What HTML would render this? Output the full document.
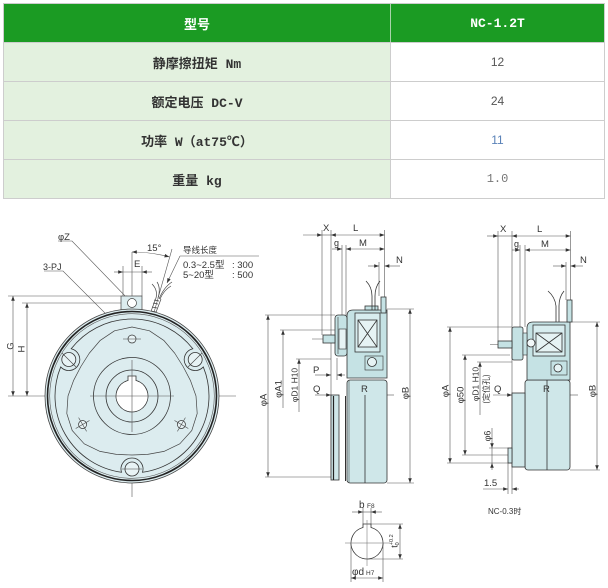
<!DOCTYPE html>
<html><head><meta charset="utf-8">
<style>
body{margin:0;width:608px;height:588px;background:#fff;position:relative;overflow:hidden;}
.bx{position:absolute;}
.c{position:absolute;display:flex;align-items:center;justify-content:center;white-space:pre;}
.h{font:bold 13px "Liberation Mono","Noto Sans CJK SC",monospace;color:#fff;}
.l{font:bold 13px "Liberation Mono","Noto Sans CJK SC",monospace;color:#333;}
.v{font:12px "Liberation Sans",sans-serif;color:#555;}
</style></head>
<body>
<!-- TABLE -->
<div class="bx" style="left:3px;top:3px;width:600px;height:194px;border:1px solid #cdcdcd;"></div>
<div class="bx" style="left:4px;top:4px;width:600px;height:38px;background:#1b9b23;"></div>
<div class="bx" style="left:4px;top:42px;width:386px;height:156px;background:#e3f1df;"></div>
<div class="bx" style="left:4px;top:42px;width:600px;height:1px;background:#cdcdcd;"></div>
<div class="bx" style="left:4px;top:81px;width:600px;height:1px;background:#cdcdcd;"></div>
<div class="bx" style="left:4px;top:120px;width:600px;height:1px;background:#cdcdcd;"></div>
<div class="bx" style="left:4px;top:159px;width:600px;height:1px;background:#cdcdcd;"></div>
<div class="bx" style="left:390px;top:4px;width:1px;height:38px;background:#a9d3aa;"></div>
<div class="bx" style="left:390px;top:43px;width:1px;height:155px;background:#cdcdcd;"></div>

<div class="c h" style="left:4px;top:4px;width:386px;height:38px;font-family:'Noto Sans CJK SC',sans-serif;">型号</div>
<div class="c h" style="left:391px;top:4px;width:213px;height:38px;">NC-1.2T</div>

<div class="c l" style="left:4px;top:43px;width:386px;height:38px;">静摩擦扭矩 Nm</div>
<div class="c v" style="left:391px;top:43px;width:213px;height:38px;">12</div>
<div class="c l" style="left:4px;top:82px;width:386px;height:38px;">额定电压 DC-V</div>
<div class="c v" style="left:391px;top:82px;width:213px;height:38px;">24</div>
<div class="c l" style="left:4px;top:121px;width:386px;height:38px;">功率 W（at75℃）</div>
<div class="c v" style="left:391px;top:121px;width:213px;height:38px;color:#5a82b8;">11</div>
<div class="c l" style="left:4px;top:160px;width:386px;height:38px;">重量 kg</div>
<div class="c v" style="left:391px;top:160px;width:213px;height:38px;font-family:'Liberation Mono',monospace;color:#777;">1.0</div>

<!-- DRAWING -->
<svg class="bx" style="left:0;top:0" width="608" height="588" viewBox="0 0 608 588" xmlns="http://www.w3.org/2000/svg">
<defs>
<marker id="a" viewBox="0 0 8 6" refX="8" refY="3" markerWidth="5" markerHeight="3.6" markerUnits="userSpaceOnUse" orient="auto-start-reverse"><path d="M0,0L8,3L0,6z" fill="#333"/></marker>
</defs>

<g font-family="Liberation Sans, sans-serif" fill="#333" font-size="9.5">

<!-- ================= FRONT VIEW ================= -->
<g stroke="#555" stroke-width="0.6" fill="none">
  <line x1="8" y1="396" x2="236" y2="396"/>
  <line x1="132" y1="252" x2="132" y2="497"/>
  <line x1="8" y1="296" x2="121" y2="296"/>
  <line x1="22" y1="303" x2="128" y2="303"/>
  <path d="M13,296 L13,396" marker-start="url(#a)" marker-end="url(#a)"/>
  <path d="M27,303 L27,396" marker-start="url(#a)" marker-end="url(#a)"/>
  <line x1="123" y1="266" x2="123" y2="296"/>
  <line x1="142" y1="266" x2="142" y2="296"/>
  <path d="M114,272 L123,272" marker-end="url(#a)"/>
  <path d="M152,272 L142,272" marker-end="url(#a)"/>
  <line x1="123" y1="272" x2="142" y2="272"/>
  <line x1="149" y1="330" x2="172" y2="249"/>
  <path d="M132,252 A144,144 0 0 1 169.3,256.9" marker-start="url(#a)" marker-end="url(#a)"/>
  <line x1="180" y1="256" x2="259" y2="256"/>
  <path d="M180,256 L167,283" marker-end="url(#a)"/>
  <path d="M58,241 L72,241 L129,300" marker-end="url(#a)"/>
  <path d="M44,271 L63,271 L128,336" marker-end="url(#a)"/>
</g>

<rect x="121" y="296" width="21" height="18" fill="#dcecef" stroke="#444" stroke-width="0.7"/>
<circle cx="132" cy="303" r="4.5" fill="#fff" stroke="#444" stroke-width="0.7"/>
<g stroke="#444" stroke-width="0.7" fill="none">
  <path d="M150,314 L156,298 M155,315 L161,299"/>
  <path d="M151,311 L156,312 M152,307 L157,308 M153,303 L158,304 M154,300 L159,301"/>
  <path d="M156,298 Q158,290 152,284 M158,298 Q161,288 157,282 M160,299 Q164,290 171,286 M159,299 Q164,287 172,282"/>
</g>

<circle cx="132" cy="396" r="87" fill="#dcecef" stroke="#444" stroke-width="0.8"/>
<circle cx="132" cy="396" r="84.5" fill="none" stroke="#222" stroke-width="1.6"/>
<circle cx="132" cy="396" r="82.3" fill="none" stroke="#555" stroke-width="0.6"/>
<path d="M203.31,366.95 A77,77 0 0 1 142.49,472.28 A11,11 0 1 0 121.51,472.28 A77,77 0 0 1 60.69,366.95 A11,11 0 1 0 71.19,348.77 A77,77 0 0 1 192.81,348.77 A11,11 0 1 0 203.31,366.95 Z" fill="none" stroke="#333" stroke-width="0.8"/>
<path d="M196,396 L197.2,413.5 L191.8,430.5 L179.8,443.8 L164,451.4 L147.6,454.4 L132,455 L116.4,454.4 L100,451.4 L84.2,443.8 L72.2,430.5 L66.8,413.5 L68,396 L73.6,380.4 L80.9,366.5 L89.25,353.25 L100,340.6 L114.5,330.8 L132,327 L149.5,330.8 L164,340.6 L174.75,353.25 L183.1,366.5 L190.4,380.4 Z" fill="none" stroke="#444" stroke-width="0.7" stroke-linejoin="round"/>
<circle cx="132" cy="396" r="38.5" fill="none" stroke="#333" stroke-width="0.8"/>
<circle cx="132" cy="396" r="26" fill="none" stroke="#333" stroke-width="0.8"/>
<path d="M128,380.51 L128,376 L136,376 L136,380.51 A16,16 0 1 1 128,380.51 Z" fill="#fff" stroke="#333" stroke-width="0.8"/>
<g stroke="#555" stroke-width="0.6" fill="none"><line x1="90" y1="396" x2="174" y2="396"/><line x1="132" y1="360" x2="132" y2="432"/></g>
<g fill="#e8f3f5" stroke="#333" stroke-width="0.8">
  <circle cx="68.8" cy="359.5" r="7"/>
  <circle cx="195.2" cy="359.5" r="7"/>
  <circle cx="132" cy="469" r="7"/>
</g>
<g stroke="#444" stroke-width="0.6">
  <line x1="62" y1="353" x2="76" y2="367"/>
  <line x1="202" y1="353" x2="188" y2="367"/>
  <line x1="122" y1="469" x2="142" y2="469"/>
</g>
<g fill="#e8f3f5" stroke="#333" stroke-width="0.7">
  <circle cx="132" cy="339" r="4"/>
  <circle cx="82.6" cy="424.5" r="4"/>
  <circle cx="181.4" cy="424.5" r="4"/>
</g>
<g stroke="#444" stroke-width="0.6">
  <line x1="123" y1="339" x2="141" y2="339"/>
  <line x1="89.5" y1="420.5" x2="75.7" y2="428.5"/><line x1="78.6" y1="417.6" x2="86.6" y2="431.4"/>
  <line x1="174.5" y1="420.5" x2="188.3" y2="428.5"/><line x1="185.4" y1="417.6" x2="177.4" y2="431.4"/>
</g>

<text x="58" y="240" font-size="9.5">φZ</text>
<text x="43" y="270" font-size="9">3-PJ</text>
<text x="134" y="267" font-size="9.5">E</text>
<text x="147" y="251" font-size="9.5">15°</text>
<text x="183" y="253" font-size="8.5" font-family="Noto Sans CJK SC, sans-serif">导线长度</text>
<text x="183" y="268" font-size="9.5" font-family="Liberation Sans, Noto Sans CJK SC, sans-serif">0.3~2.5型</text>
<text x="232" y="268" font-size="9.5">: 300</text>
<text x="183" y="278" font-size="9.5" font-family="Liberation Sans, Noto Sans CJK SC, sans-serif">5~20型</text>
<text x="232" y="278" font-size="9.5">: 500</text>
<text transform="rotate(-90 11 346)" x="11" y="346" text-anchor="middle" dominant-baseline="middle" font-size="9.5">G</text>
<text transform="rotate(-90 22 349)" x="22" y="349" text-anchor="middle" dominant-baseline="middle" font-size="9.5">H</text>

<!-- ================= MIDDLE SIDE VIEW ================= -->
<g stroke="#555" stroke-width="0.6" fill="none">
  <line x1="322" y1="230" x2="322" y2="335"/>
  <line x1="331" y1="230" x2="331" y2="478"/>
  <line x1="384.5" y1="230" x2="384.5" y2="297"/>
  <path d="M303,235 L322,235" marker-end="url(#a)"/>
  <path d="M331,235 L384.5,235" marker-start="url(#a)" marker-end="url(#a)"/>
  <line x1="322" y1="235" x2="331" y2="235"/>
  <line x1="342" y1="245" x2="342" y2="315"/>
  <line x1="346" y1="245" x2="346" y2="315"/>
  <path d="M332,249 L342,249" marker-end="url(#a)"/>
  <path d="M346,249 L384.5,249" marker-start="url(#a)" marker-end="url(#a)"/>
  <line x1="379" y1="262" x2="379" y2="296"/>
  <path d="M368,266 L379,266" marker-end="url(#a)"/>
  <path d="M400,266 L384.5,266" marker-end="url(#a)"/>
  <line x1="265" y1="315" x2="335" y2="315"/>
  <line x1="265" y1="477" x2="331" y2="477"/>
  <path d="M268,315 L268,477" marker-start="url(#a)" marker-end="url(#a)"/>
  <line x1="280" y1="330" x2="335" y2="330"/>
  <path d="M283,408 L283,330" marker-end="url(#a)"/>
  <line x1="296" y1="359" x2="331" y2="359"/>
  <path d="M299,412 L299,359" marker-end="url(#a)"/>
  <path d="M315,375 L331,375" marker-end="url(#a)"/>
  <path d="M345,375 L337,375" marker-end="url(#a)"/>
  <line x1="337" y1="358" x2="337" y2="380"/>
  <path d="M315,395 L331,395" marker-end="url(#a)"/>
  <path d="M347,395 L386,395" marker-start="url(#a)" marker-end="url(#a)"/>
  <line x1="386" y1="395" x2="394" y2="395"/>
  <line x1="387" y1="309" x2="414" y2="309"/>
  <line x1="387" y1="483" x2="414" y2="483"/>
  <path d="M410,309 L410,483" marker-start="url(#a)" marker-end="url(#a)"/>
  <line x1="312" y1="339" x2="352" y2="339"/>
</g>
<g stroke="#333" stroke-width="0.8">
  <rect x="347" y="380" width="40" height="103" rx="3" fill="#cfe7e9"/>
  <line x1="365" y1="395" x2="365" y2="483"/>
  <line x1="349" y1="380" x2="349" y2="483" stroke-width="0.5"/>
  <rect x="331" y="395" width="8" height="85" fill="#cfe7e9"/>
  <line x1="333.5" y1="396" x2="333.5" y2="480" stroke="#222" stroke-width="1.2"/>
  <line x1="345.5" y1="396" x2="345.5" y2="481" stroke="#333" stroke-width="1"/>
  <path d="M347,378 L347,316 Q347,310 353,310 L387,310 L387,378 Z" fill="#c5e2e4"/>
  <rect x="365" y="306" width="13" height="4" fill="#c5e2e4"/>
  <rect x="355" y="313" width="25" height="39" fill="#d8edef"/>
  <rect x="358" y="320" width="19" height="27" fill="#e6f3f4"/>
  <path d="M358,320 L377,347 M377,320 L358,347" fill="none"/>
  <rect x="365" y="356" width="18" height="14" fill="#c5e2e4" stroke-width="0.6"/>
  <circle cx="372" cy="362" r="4.5" fill="#e6f3f4"/>
  <rect x="335" y="315" width="12" height="41" rx="3" fill="#c5e2e4"/>
  <line x1="338" y1="317" x2="338" y2="354" stroke-width="0.6"/>
  <rect x="339" y="329" width="7" height="20" fill="#e6f3f4" stroke-width="0.6"/>
  <rect x="323" y="335" width="12" height="8" fill="#c5e2e4"/>
  <rect x="381" y="297" width="5" height="16" fill="#c5e2e4"/>
  <path d="M366,281 Q372,287 372,296 M380,281 Q375,287 375,296 M372,296 L372,310 M375,296 L375,310" fill="none"/>
</g>
<text x="323" y="231" font-size="9.5">X</text>
<text x="353" y="231" font-size="9.5">L</text>
<text x="334" y="246" font-size="9">g</text>
<text x="359" y="246" font-size="9.5">M</text>
<text x="396" y="263" font-size="9.5">N</text>
<text x="313" y="373" font-size="9.5">P</text>
<text x="313" y="392" font-size="9.5">Q</text>
<text x="361" y="392" font-size="9.5">R</text>
<text transform="rotate(-90 264 400)" x="264" y="400" text-anchor="middle" dominant-baseline="middle" font-size="9.5">φA</text>
<text transform="rotate(-90 279 389)" x="279" y="389" text-anchor="middle" dominant-baseline="middle" font-size="9.5">φA1</text>
<text transform="rotate(-90 295 385)" x="295" y="385" text-anchor="middle" dominant-baseline="middle" font-size="8.5">φD1 H10</text>
<text transform="rotate(-90 406 393)" x="406" y="393" text-anchor="middle" dominant-baseline="middle" font-size="9.5">φB</text>

<!-- ================= RIGHT VIEW ================= -->
<g stroke="#555" stroke-width="0.6" fill="none">
  <line x1="498" y1="231" x2="498" y2="341"/>
  <line x1="512" y1="231" x2="512" y2="467"/>
  <line x1="570.5" y1="231" x2="570.5" y2="300"/>
  <path d="M487,236 L498,236" marker-end="url(#a)"/>
  <line x1="498" y1="236" x2="512" y2="236"/>
  <path d="M512,236 L570.5,236" marker-start="url(#a)" marker-end="url(#a)"/>
  <line x1="520" y1="245" x2="520" y2="327"/>
  <line x1="525" y1="245" x2="525" y2="327"/>
  <path d="M512,250 L520,250" marker-end="url(#a)"/>
  <path d="M525,250 L570.5,250" marker-start="url(#a)" marker-end="url(#a)"/>
  <line x1="566" y1="262" x2="566" y2="300"/>
  <path d="M553,266 L566,266" marker-end="url(#a)"/>
  <path d="M583,266 L570.5,266" marker-end="url(#a)"/>
  <line x1="447" y1="327" x2="512" y2="327"/>
  <line x1="447" y1="463" x2="512" y2="463"/>
  <path d="M450,327 L450,463" marker-start="url(#a)" marker-end="url(#a)"/>
  <line x1="462" y1="355" x2="510" y2="355"/>
  <line x1="462" y1="455" x2="508" y2="455"/>
  <path d="M465,355 L465,455" marker-start="url(#a)" marker-end="url(#a)"/>
  <line x1="477" y1="362" x2="512" y2="362"/>
  <path d="M480,415 L480,362" marker-end="url(#a)"/>
  <line x1="489" y1="448" x2="508" y2="448"/>
  <path d="M492,428 L492,448" marker-end="url(#a)"/>
  <path d="M492,470 L492,463" marker-end="url(#a)"/>
  <line x1="492" y1="448" x2="492" y2="463"/>
  <path d="M493,395 L512,395" marker-end="url(#a)"/>
  <path d="M525,395 L570,395" marker-start="url(#a)" marker-end="url(#a)"/>
  <line x1="570" y1="395" x2="578" y2="395"/>
  <line x1="572" y1="322" x2="600" y2="322"/>
  <line x1="570" y1="470" x2="600" y2="470"/>
  <path d="M597,322 L597,470" marker-start="url(#a)" marker-end="url(#a)"/>
  <line x1="508" y1="463" x2="508" y2="494"/>
  <line x1="512" y1="467" x2="512" y2="494"/>
  <path d="M483,489 L508,489" marker-end="url(#a)"/>
  <path d="M519,489 L512,489" marker-end="url(#a)"/>
  <line x1="490" y1="344.5" x2="520" y2="344.5"/>
</g>
<g stroke="#333" stroke-width="0.8">
  <rect x="525" y="380" width="45" height="90" rx="3" fill="#cfe7e9"/>
  <line x1="547" y1="380" x2="547" y2="470"/>
  <rect x="512" y="393" width="13" height="74" fill="#cfe7e9"/>
  <rect x="508" y="448" width="4" height="15" fill="#cfe7e9"/>
  <path d="M527,380 L527,328 Q527,322 533,322 L570,322 L570,380 Z" fill="#c5e2e4"/>
  <rect x="533" y="325" width="32" height="31" fill="#d8edef"/>
  <rect x="536" y="333" width="26" height="19" fill="#e6f3f4"/>
  <path d="M536,333 L562,352 M562,333 L536,352" fill="none"/>
  <rect x="551" y="361" width="16" height="14" fill="#c5e2e4" stroke-width="0.6"/>
  <circle cx="558" cy="368" r="4" fill="#e6f3f4"/>
  <rect x="512" y="327" width="11" height="33" rx="2" fill="#c5e2e4"/>
  <rect x="523" y="333" width="4" height="22" fill="#c5e2e4" stroke-width="0.6"/>
  <circle cx="531" cy="343" r="4" fill="#f2f8f9"/>
  <rect x="498" y="341" width="14" height="7" fill="#c5e2e4"/>
  <rect x="567" y="300" width="5" height="22" fill="#c5e2e4"/>
  <path d="M548,291 Q555,297 556,306 M564,291 Q559,297 559,306 M556,306 L556,322 M559,306 L559,322" fill="none"/>
</g>
<text x="500" y="232" font-size="9.5">X</text>
<text x="537" y="232" font-size="9.5">L</text>
<text x="514" y="247" font-size="9">g</text>
<text x="541" y="247" font-size="9.5">M</text>
<text x="580" y="263" font-size="9.5">N</text>
<text x="494" y="392" font-size="9.5">Q</text>
<text x="543" y="392" font-size="9.5">R</text>
<text x="484" y="486" font-size="9.5">1.5</text>
<text x="488" y="514" font-size="8" font-family="Liberation Sans, Noto Sans CJK SC, sans-serif">NC-0.3时</text>
<text transform="rotate(-90 446 391)" x="446" y="391" text-anchor="middle" dominant-baseline="middle" font-size="9.5">φA</text>
<text transform="rotate(-90 461 395)" x="461" y="395" text-anchor="middle" dominant-baseline="middle" font-size="9.5">φ50</text>
<text transform="rotate(-90 476 384)" x="476" y="384" text-anchor="middle" dominant-baseline="middle" font-size="8.5">φD1 H10</text>
<text transform="rotate(-90 487 389)" x="487" y="389" text-anchor="middle" dominant-baseline="middle" font-size="8" font-family="Noto Sans CJK SC, sans-serif">(定位孔)</text>
<text transform="rotate(-90 488 436)" x="488" y="436" text-anchor="middle" dominant-baseline="middle" font-size="9">φ6</text>
<text transform="rotate(-90 593 391)" x="593" y="391" text-anchor="middle" dominant-baseline="middle" font-size="9.5">φB</text>

<!-- ================= KEYWAY ================= -->
<g stroke="#555" stroke-width="0.6" fill="none">
  <line x1="363" y1="508" x2="363" y2="524"/>
  <line x1="371" y1="508" x2="371" y2="524"/>
  <path d="M352,512 L363,512" marker-end="url(#a)"/>
  <path d="M382,512 L371,512" marker-end="url(#a)"/>
  <line x1="363" y1="512" x2="371" y2="512"/>
  <line x1="371" y1="524" x2="403" y2="524"/>
  <line x1="367" y1="559" x2="403" y2="559"/>
  <path d="M400,524 L400,559" marker-start="url(#a)" marker-end="url(#a)"/>
  <line x1="351" y1="543" x2="351" y2="582"/>
  <line x1="383" y1="543" x2="383" y2="582"/>
  <path d="M351,578 L383,578" marker-start="url(#a)" marker-end="url(#a)"/>
</g>
<path d="M363,527.5 L363,524 L371,524 L371,527.5 A16,16 0 1 1 363,527.5 Z" fill="#fff" stroke="#333" stroke-width="0.8"/>
<g stroke="#666" stroke-width="0.5"><line x1="345" y1="543" x2="390" y2="543"/><line x1="367" y1="520" x2="367" y2="566"/></g>
<text x="359" y="508" font-size="10">b</text><text x="367" y="508" font-size="6.5">F8</text>
<text x="352" y="575" font-size="10">φd</text><text x="366" y="575" font-size="6.5">H7</text>
<text transform="rotate(-90 395 541)" x="395" y="541" text-anchor="middle" dominant-baseline="middle" font-size="9">t<tspan font-size="5.5" dy="-3">+0.2</tspan><tspan font-size="5.5" dx="-11" dy="6">0</tspan></text>
</g>
</svg>
</body></html>
